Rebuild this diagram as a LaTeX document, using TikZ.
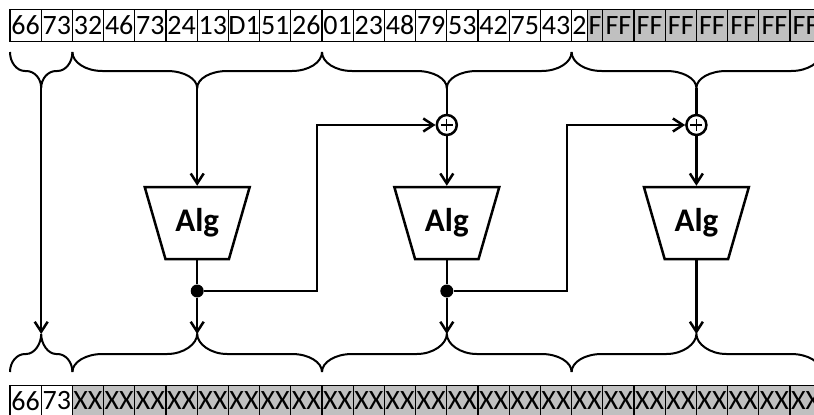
\documentclass[tikz,border=0pt]{standalone}
\usepackage{fontspec}
\setmainfont{Carlito}
\usetikzlibrary{arrows.meta}
\usetikzlibrary{shapes.geometric}
\usetikzlibrary{positioning}
\definecolor{padgray}{RGB}{192,192,192}
\def\cellWidth{31.2}
\def\cellHeight{31.7}
\tikzset{
  cell/.style      = {draw, line width=1.1pt, rectangle, minimum width=\cellWidth pt,
    minimum height=\cellHeight pt, inner sep=0, font=\fontsize{28}{28}\selectfont},
  half cell/.style = {cell, minimum width=15.6pt},
  filled/.style    = {fill=padgray},
  alg/.style       = {rectangle, minimum width=105pt, minimum height=72pt, inner sep=0,
    outer sep=1.25pt, font=\fontsize{33}{33}\selectfont\bfseries,
    append after command={
      \pgfextra{
        \draw[line width=2.5pt, line join=miter]
          ([shift={(1.25pt,-1.25pt)}]\tikzlastnode.north west) --
          ([shift={(-1.25pt,-1.25pt)}]\tikzlastnode.north east) --
          ([shift={(-22pt,1.25pt)}]\tikzlastnode.south east) --
          ([shift={(22pt,1.25pt)}]\tikzlastnode.south west) -- cycle;
      }
    }
  },
  sum/.style       = {draw, circle, line width=2.5pt, minimum size=20pt, inner sep=0,
    path picture={
      \draw[line width=1.2pt]
        ([xshift=-6pt]path picture bounding box.center) --
        ([xshift=6pt]path picture bounding box.center);
      \draw[line width=1.2pt]
        ([yshift=-6pt]path picture bounding box.center) --
        ([yshift=6pt]path picture bounding box.center);
    },
  },
  junction/.style  = {circle, fill=black, minimum size=13pt, inner sep=0},
  flow/.style      = {line width=2.5pt},
  brace line/.style = {line width=2pt},
}
% brace over the input bytes: left x, right x, curl, name of tip
\newcommand{\topbrace}[4]{%
  \draw[brace line] (#1,52) .. controls (#1,62.5) and ({#1+0.45*#3},71) .. ({#1+#3},71)
    -- ({(#1+#2)/2-#3},71) .. controls ({(#1+#2)/2-0.45*#3},71) and ({(#1+#2)/2},78.5) .. ({(#1+#2)/2},88) coordinate (#4)
    .. controls ({(#1+#2)/2},78.5) and ({(#1+#2)/2+0.45*#3},71) .. ({(#1+#2)/2+#3},71)
    -- ({#2-#3},71) .. controls ({#2-0.45*#3},71) and (#2,62.5) .. (#2,52);
}
% brace over the output bytes
\newcommand{\bottombrace}[4]{%
  \draw[brace line] (#1,372) .. controls (#1,362) and ({#1+0.45*#3},354) .. ({#1+#3},354)
    -- ({(#1+#2)/2-#3},354) .. controls ({(#1+#2)/2-0.45*#3},354) and ({(#1+#2)/2},344) .. ({(#1+#2)/2},334) coordinate (#4)
    .. controls ({(#1+#2)/2},344) and ({(#1+#2)/2+0.45*#3},354) .. ({(#1+#2)/2+#3},354)
    -- ({#2-#3},354) .. controls ({#2-0.45*#3},354) and (#2,362) .. (#2,372);
}

\begin{document}
\begin{tikzpicture}[x=1pt, y=-1pt, >={Straight Barb[length=10pt,width=13pt]}]
  \clip (0,0) rectangle (814,415);

  % input
  \foreach \b [count=\i from 0] in {66,73,32,46,73,24,13,D1,51,26,01,23,48,79,53,42,75,43}
    \node[cell] (in\i) at ({25.6+\cellWidth*\i},25.3) {\b};
  \node[half cell] (in18a) at (579.4,25.3) {2};
  \node[half cell, filled] (in18b) at (595,25.3) {F};
  \foreach \i in {19,...,25}
    \node[cell, filled] (in\i) at ({25.6+\cellWidth*\i},25.3) {FF};

  % output
  \node[cell] (out0) at (25.6,401) {66};
  \node[cell] (out1) at (56.8,401) {73};
  \foreach \i in {2,...,25}
    \node[cell, filled] (out\i) at ({25.6+\cellWidth*\i},401) {XX};

  \topbrace{10}{72.4}{15}{tA}
  \topbrace{72.4}{322}{30}{tB}
  \topbrace{322}{571.6}{30}{tC}
  \topbrace{571.6}{821.2}{30}{tD}

  \bottombrace{10}{72.4}{15}{bA}
  \bottombrace{72.4}{322}{30}{bB}
  \bottombrace{322}{571.6}{30}{bC}
  \bottombrace{571.6}{821.2}{30}{bD}

  \node[alg] (alg1) at (197.2,223) {Alg};
  \node[alg] (alg2) at (446.8,223) {Alg};
  \node[alg] (alg3) at (696.4,223) {Alg};

  \node[sum] (sum2) at (446.8,125) {};
  \node[sum] (sum3) at (696.4,125) {};

  \node[junction] (dot1) at (197.2,291) {};
  \node[junction] (dot2) at (446.8,291) {};

  \coordinate (up1) at (317,125);
  \coordinate (up2) at (567,125);

  \draw[flow,->] (tA) -- (bA);

  \draw[flow,->] (tB) -- (alg1.north);
  \draw[flow] (alg1.south) -- (dot1);
  \draw[flow,->] (dot1) -- (bB);
  \draw[flow,->] (dot1) -| (up1) -- (sum2);

  \draw[flow] (tC) -- (sum2);
  \draw[flow,->] (sum2) -- (alg2.north);
  \draw[flow] (alg2.south) -- (dot2);
  \draw[flow,->] (dot2) -- (bC);
  \draw[flow,->] (dot2) -| (up2) -- (sum3);

  \draw[flow] (tD) -- (sum3);
  \draw[flow,->] (sum3) -- (alg3.north);
  \draw[flow,->] (alg3.south) -- (bD);
\end{tikzpicture}
\end{document}
